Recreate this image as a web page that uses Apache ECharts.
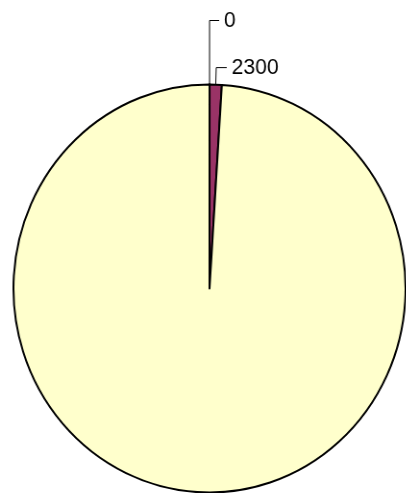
<!DOCTYPE html>
<html>
<head>
<meta charset="utf-8">
<script src="https://cdn.jsdelivr.net/npm/echarts@6/dist/echarts.min.js"></script>
<style>
  html, body { margin: 0; padding: 0; background: #fff; overflow: hidden; }
  #wrap { width: 406px; height: 493px; overflow: hidden; }
  /* the reference pie is a slightly squashed ellipse */
  #chart { width: 423px; height: 493px; transform: scaleX(0.961); transform-origin: 0 0; }
</style>
</head>
<body>
<div id="wrap"><div id="chart"></div></div>
<script>
// slice values, clockwise from 12 o'clock
const sliceNames = ['A', 'B', 'C']
const sliceValues = [0, 2300, 227700]
const sliceColors = ['#6b6b9e', '#993366', '#ffffcc']
const showLabel = [true, true, false]
const leaderLength = [64, 17, 0]
const leaderLength2 = [10, 11, 0]

const chart = echarts.init(document.getElementById('chart'), null, { renderer: 'canvas' })

chart.setOption({
    animation: false,
    series: [{
        type: 'pie',
        center: [218, 288.5],
        radius: [0, 204],
        startAngle: 89.99,
        clockwise: true,
        avoidLabelOverlap: false,
        minShowLabelAngle: -1,
        itemStyle: {
            borderColor: '#000',
            borderWidth: 2
        },
        label: {
            show: true,
            position: 'outside',
            formatter: '{c}',
            color: '#000',
            fontFamily: 'Liberation Sans, Arial, sans-serif',
            fontSize: 22,
            distanceToLabelLine: 5
        },
        labelLine: {
            show: true,
            lineStyle: { color: '#000', width: 1 }
        },
        emphasis: { disabled: true },
        data: sliceValues.map((v, i) => ({
            name: sliceNames[i],
            value: v,
            itemStyle: { color: sliceColors[i] },
            label: { show: showLabel[i] },
            labelLine: {
                show: showLabel[i],
                length: leaderLength[i],
                length2: leaderLength2[i]
            }
        }))
    }]
})
</script>
</body>
</html>
